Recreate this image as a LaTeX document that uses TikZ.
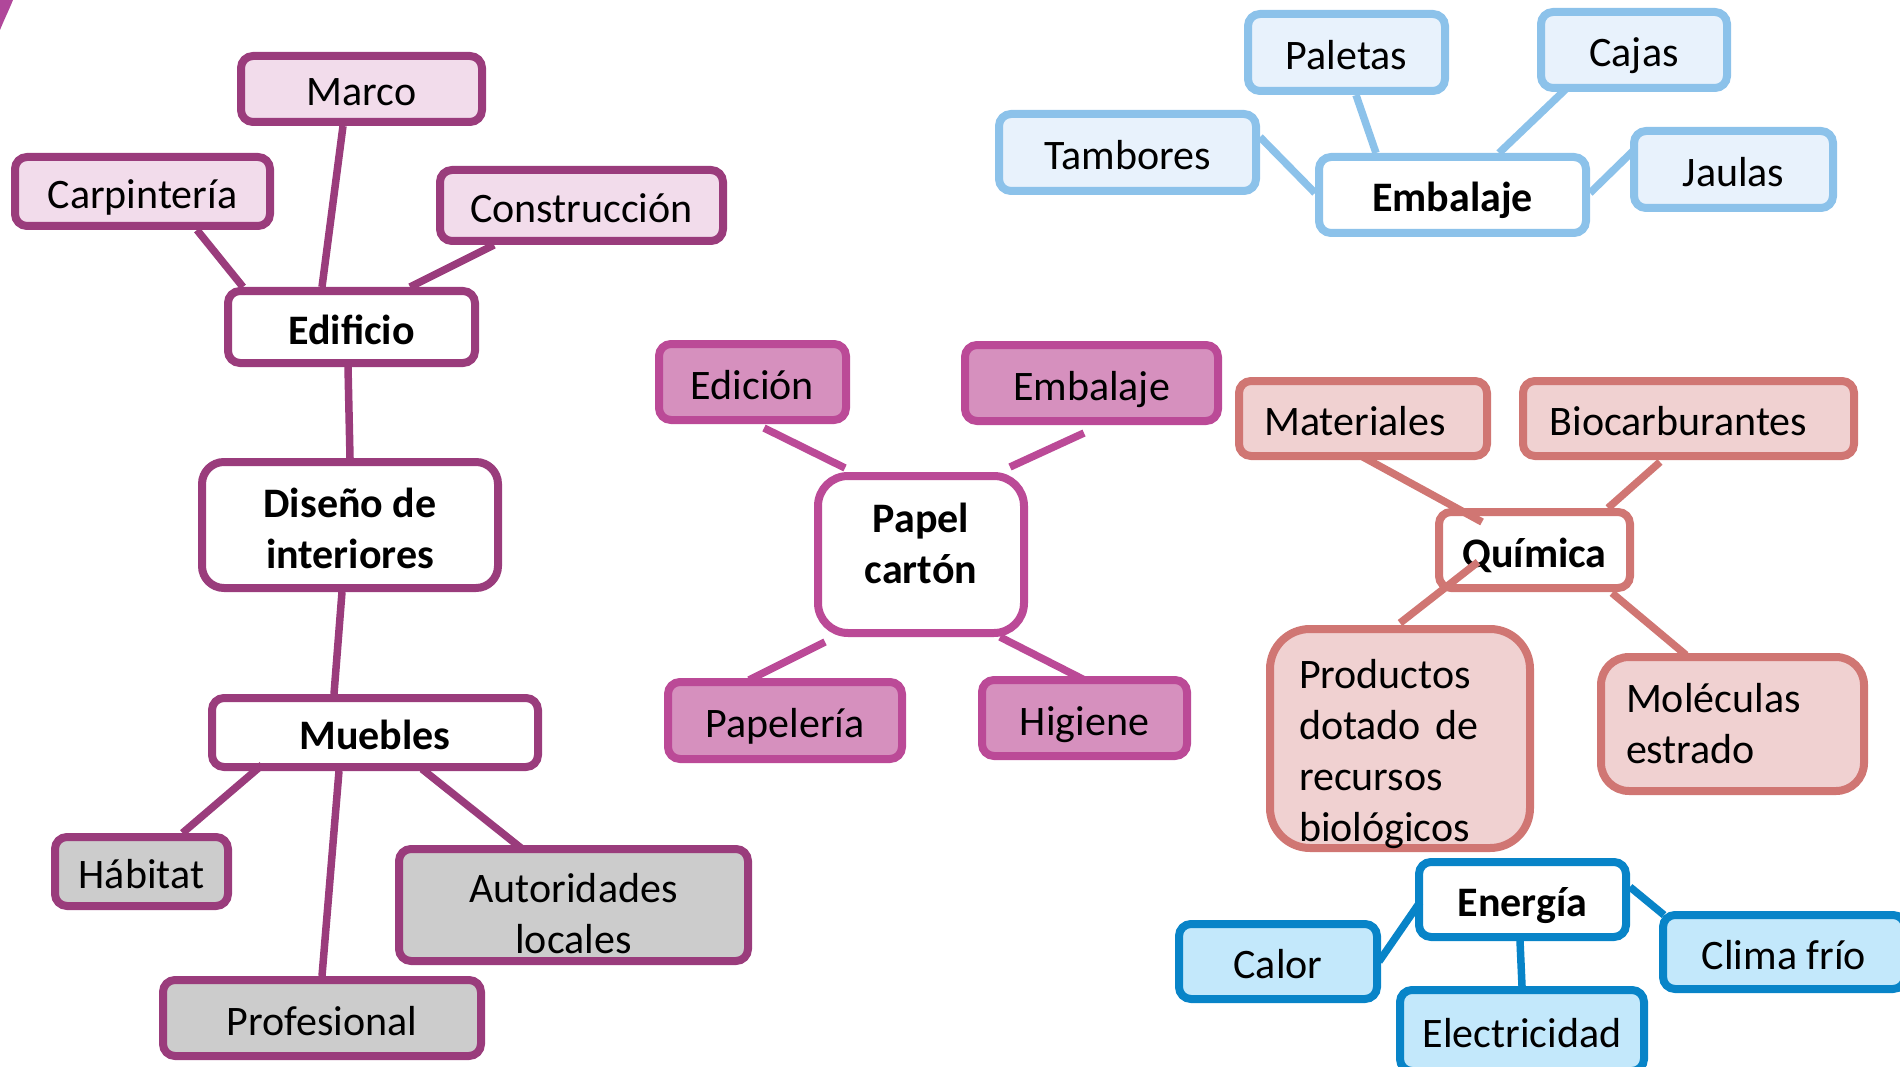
\documentclass[tikz,border=0pt]{standalone}
\usepackage{fontspec}
\setmainfont{Carlito}
\definecolor{Lb}{HTML}{9A3C7C}
\definecolor{Lf}{HTML}{F2DCEB}
\definecolor{Gf}{HTML}{CCCCCC}
\definecolor{Pb}{HTML}{BB4A97}
\definecolor{Pf}{HTML}{D690BE}
\definecolor{Qb}{HTML}{D07673}
\definecolor{Qf}{HTML}{F0D1D1}
\definecolor{Bb}{HTML}{8CC2EA}
\definecolor{Bf}{HTML}{E8F2FC}
\definecolor{Eb}{HTML}{0884C8}
\definecolor{Ef}{HTML}{C3E8FB}
\definecolor{Arc}{HTML}{B0479A}
\tikzset{
  box/.style={draw, line width=8pt, rounded corners=12pt, inner sep=0pt, text=black},
  one/.style={text height=40pt, text depth=6pt},
  multi/.style={align=center},
  hd/.style={font=\fontsize{42}{51}\selectfont\bfseries, fill=white},
  lbox/.style={box, draw=Lb, fill=Lf},
  lhead/.style={box, draw=Lb, hd},
  gbox/.style={box, draw=Lb, fill=Gf},
  pbox/.style={box, draw=Pb, fill=Pf},
  phead/.style={box, draw=Pb, hd},
  qbox/.style={box, draw=Qb, fill=Qf},
  qhead/.style={box, draw=Qb, hd},
  bbox/.style={box, draw=Bb, fill=Bf},
  bhead/.style={box, draw=Bb, hd},
  ebox/.style={box, draw=Eb, fill=Ef},
  ehead/.style={box, draw=Eb, hd},
  lconn/.style={draw=Lb, line width=7.5pt},
  pconn/.style={draw=Pb, line width=7.5pt},
  qconn/.style={draw=Qb, line width=7.5pt},
  bconn/.style={draw=Bb, line width=7.5pt},
  econn/.style={draw=Eb, line width=7.5pt},
}
\begin{document}
\begin{tikzpicture}[x=1pt, y=-1pt, font=\fontsize{42}{51}\selectfont]
\useasboundingbox (0,0) rectangle (1900,1067);
\clip (0,0) rectangle (1900,1067);
\fill[Arc] (0,0) -- (13,0) .. controls (9,10) and (4,20) .. (0,30) -- cycle;

% ---------- left group ----------
\node[lbox, one, minimum width=241, minimum height=66] (marco) at (361.5,89) {Marco};
\node[lbox, one, minimum width=255, minimum height=69] (carp) at (142.5,191.5) {Carpintería};
\node[lbox, one, minimum width=283, minimum height=71] (constr) at (581.5,205.5) {Construcción};
\node[lhead, one, minimum width=247, minimum height=72] (edif) at (351.5,327) {Edificio};
\node[lhead, multi, text height=92pt, text depth=6pt, rounded corners=22pt, minimum width=296, minimum height=126] (dis) at (350,525) {Diseño de\\interiores};
\node[lhead, one, minimum width=326, minimum height=69] (mue) at (375,732.5) {Muebles};
\node[gbox, one, minimum width=173, minimum height=69] (hab) at (141.5,871.5) {Hábitat};
\node[gbox, one, minimum width=318, minimum height=76] (prof) at (322,1018) {Profesional};
\node[gbox, multi, text height=102pt, text depth=6pt, minimum width=349, minimum height=112] (aut) at (573.5,905) {Autoridades\\locales};

\draw[lconn] ([xshift=54.5]carp.south) -- ([xshift=-108.5]edif.north);
\draw[lconn] ([xshift=-18.5]marco.south) -- ([xshift=-29.5]edif.north);
\draw[lconn] ([xshift=-87.5]constr.south) -- ([xshift=58.5]edif.north);
\draw[lconn] ([xshift=-3.5]edif.south) -- (dis.north);
\draw[lconn] ([xshift=-8]dis.south) -- ([xshift=-41]mue.north);
\draw[lconn] ([xshift=-113,yshift=6]mue.south) -- ([xshift=41]hab.north);
\draw[lconn] ([xshift=-36]mue.south) -- (prof.north);
\draw[lconn] ([xshift=47,yshift=2]mue.south) -- ([xshift=-52.5,yshift=-3]aut.north);

% ---------- centre group ----------
\node[phead, multi, text height=63pt, text depth=6pt, rounded corners=30pt, minimum width=206, minimum height=157] (pap) at (921,554.5) {Papel\\cartón};
\node[pbox, one, minimum width=187, minimum height=76] (edic) at (752.5,382) {Edición};
\node[pbox, one, minimum width=253, minimum height=76] (embp) at (1091.5,383) {Embalaje};
\node[pbox, one, minimum width=234, minimum height=77] (papl) at (785,720.5) {Papelería};
\node[pbox, one, minimum width=205, minimum height=76] (hig) at (1084.5,718) {Higiene};

\draw[pconn] ([xshift=11.5,yshift=-4]edic.south) -- ([xshift=-76,yshift=4]pap.north);
\draw[pconn] ([xshift=-7.5,yshift=-8]embp.south) -- ([xshift=89,yshift=5]pap.north);
\draw[pconn] ([xshift=-96,yshift=-5]pap.south) -- ([xshift=-36,yshift=-2]papl.north);
\draw[pconn] ([xshift=79]pap.south) -- ([yshift=-4]hig.north);

% ---------- química group ----------
\node[qbox, one, minimum width=248, minimum height=75] (mat) at (1363,418.5) {Materiales\kern16pt};
\node[qbox, one, minimum width=331, minimum height=75] (bio) at (1688.5,418.5) {Biocarburantes\kern20pt};
\node[qhead, one, minimum width=191, minimum height=76] (quim) at (1534.5,550) {Química};
\node[qbox, align=left, text width=202, inner xsep=29pt, text height=30pt, text depth=131pt, rounded corners=40pt, minimum height=219] (prod) at (1400,738.5) {Productos\\dotado de\\recursos\\biológicos};
\node[qbox, align=left, text width=213, inner xsep=25pt, rounded corners=28pt, minimum height=134] (mol) at (1732.5,724) {Moléculas\\estrado};

\draw[qconn] ([yshift=3]mat.south) -- ([xshift=-52.5,yshift=-14]quim.north);
\draw[qconn] ([xshift=-28.5,yshift=-2]bio.south) -- ([xshift=73.5]quim.north);
\draw[qconn] ([xshift=-56.5,yshift=-12]quim.center) -- ([yshift=2]prod.north);
\draw[qconn] ([xshift=77.5,yshift=-1]quim.south) -- ([xshift=-46.5,yshift=-2]mol.north);

% ---------- embalaje group ----------
\node[bbox, one, minimum width=197, minimum height=77] (pal) at (1346.5,52.5) {Paletas};
\node[bbox, one, minimum width=186, minimum height=76] (caj) at (1634,50) {Cajas};
\node[bbox, one, minimum width=257, minimum height=77] (tam) at (1127.5,152.5) {Tambores};
\node[bhead, one, minimum width=267, minimum height=76] (emb) at (1452.5,195) {Embalaje};
\node[bbox, one, minimum width=199, minimum height=77] (jau) at (1733.5,169.5) {Jaulas};

\draw[bconn] ([xshift=9.5]pal.south) -- ([xshift=-76.5]emb.north);
\draw[bconn] ([xshift=-67,yshift=4]caj.south) -- ([xshift=46.5]emb.north);
\draw[bconn] ([yshift=15.5]tam.east) -- ([yshift=2]emb.west);
\draw[bconn] ([xshift=4,yshift=19.5]jau.west) -- ([yshift=2]emb.east);

% ---------- energía group ----------
\node[ehead, one, minimum width=207, minimum height=75] (ener) at (1522.5,899.5) {Energía};
\node[ebox, one, minimum width=198, minimum height=75] (cal) at (1278,961.5) {Calor};
\node[ebox, one, minimum width=244, minimum height=81] (elec) at (1522,1030.5) {Electricidad};
\node[ebox, one, minimum width=242, minimum height=74] (clima) at (1784,952) {Clima frío};

\draw[econn] ([xshift=5,yshift=-2.5]ener.west) -- ([xshift=-2]cal.east);
\draw[econn] ([xshift=-2.5]ener.south) -- (elec.north);
\draw[econn] ([yshift=12.5]ener.east) -- ([xshift=5,yshift=-4]clima.north west);
\end{tikzpicture}
\end{document}
